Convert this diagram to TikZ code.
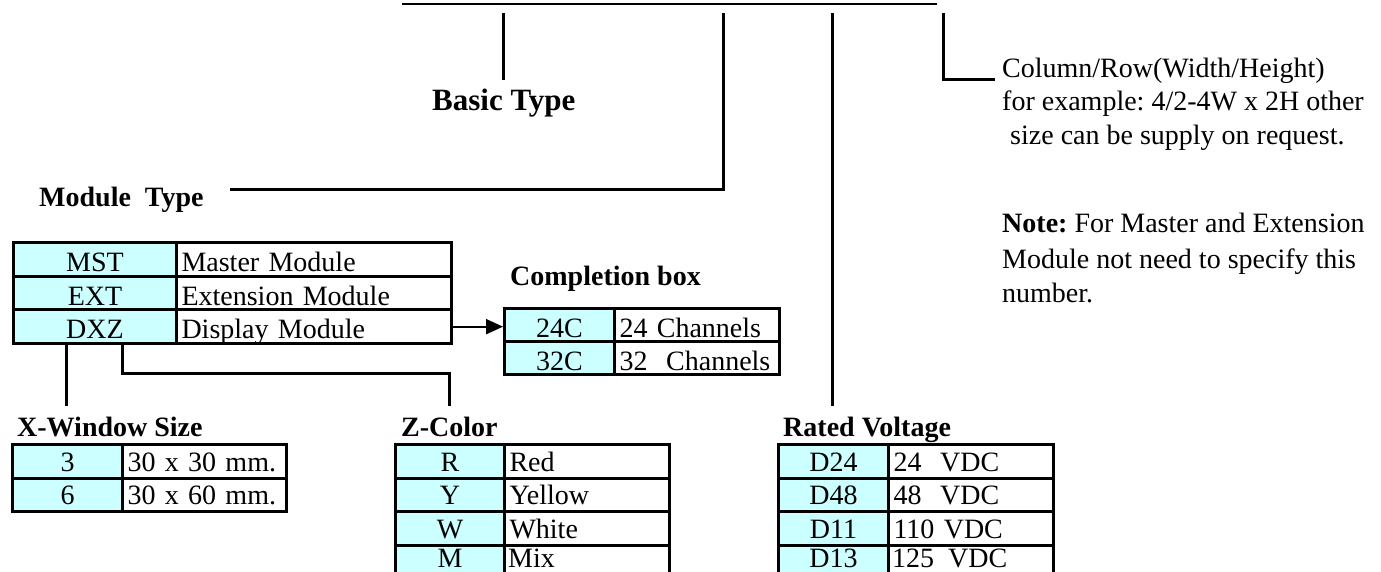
\documentclass[tikz,border=0pt]{standalone}
\usepackage{fontspec}
\setmainfont{Liberation Serif}
\usetikzlibrary{arrows.meta}
\definecolor{cyanbg}{HTML}{CCFFFF}
\frenchspacing
\newcommand{\regfont}{\fontsize{28}{34}\selectfont}
\newcommand{\bldfont}{\fontsize{28}{34}\selectfont\bfseries}
\newcommand{\bigbldfont}{\fontsize{31}{37}\selectfont\bfseries}
\tikzset{
  conn/.style={line width=3pt},
  cellbox/.style={draw, line width=3pt, inner sep=0pt, text height=25pt, text depth=1pt,
    anchor=north west, font=\regfont},
  codecell/.style={cellbox, fill=cyanbg, minimum width=#1},
  desccell/.style={cellbox, fill=white, inner xsep=5pt, text width=#1, align=left},
  rowa/.style={minimum height=33.67pt},
  rowb/.style={minimum height=33pt},
  rowc/.style={minimum height=33.5pt, text height=23pt, text depth=3pt},
  lbl/.style={inner sep=0pt, anchor=base west, font=\regfont},
  clbl/.style={inner sep=0pt, anchor=base, font=\regfont},
  blbl/.style={inner sep=0pt, anchor=base west, font=\bldfont},
  arrowln/.style={line width=2pt, -{Triangle[length=17pt,width=15pt]}}
}
\begin{document}
\begin{tikzpicture}[x=1pt,y=1pt]
\useasboundingbox (0,0) rectangle (1381,-571);
\clip (0,0) rectangle (1381,-571);

% top bar and its branches
\coordinate (barL) at (402,-4);
\coordinate (barR) at (937,-4);
\draw[line width=2.8pt] (barL) -- (barR);

\coordinate (b1) at (503,-13);  \coordinate (b2) at (503,-80);
\coordinate (m1) at (723,-13);  \coordinate (m2) at (723,-189); \coordinate (m3) at (230,-189);
\coordinate (v1) at (832,-13);  \coordinate (v2) at (832,-406);
\coordinate (k1) at (943,-13);  \coordinate (k2) at (943,-79);  \coordinate (k3) at (995,-79);
\draw[conn] (b1) -- (b2);
\draw[conn] (m1) -- (m2) -- (m3);
\draw[conn] (v1) -- (v2);
\draw[conn] (k1) -- (k2) -- (k3);

% labels
\node[inner sep=0pt, anchor=base west, font=\bigbldfont] (basic) at (432,-110) {Basic Type};
\node[blbl] (modtype) at (39,-206) {Module~~Type};
\node[blbl] (comptitle) at (510,-285) {Completion box};
\node[blbl] (xwtitle) at (17,-436) {X-Window Size};
\node[blbl] (ztitle) at (401,-436) {Z-Color};
\node[blbl] (rvtitle) at (783,-436) {Rated Voltage};

\node[lbl] (cr1) at (1002,-77) {Column/Row(Width/Height)};
\node[lbl] (cr2) at (1002,-110) {for example: 4/2-4W x 2H other};
\node[lbl] (cr3) at (1010,-144) {size can be supply on request.};
\node[lbl] (nt1) at (1002,-232) {\textbf{Note:} For Master and Extension};
\node[lbl] (nt2) at (1002,-268) {Module not need to specify this};
\node[lbl] (nt3) at (1002,-302) {number.};

% Module type table
\node[codecell=163pt, rowa] (mst) at (12,-241) {MST};
\node[desccell=265pt, rowa] (mstd) at (175,-241) {Master Module};
\node[codecell=163pt, rowa] (ext) at (12,-274.67) {EXT};
\node[desccell=265pt, rowa] (extd) at (175,-274.67) {Extension Module};
\node[codecell=163pt, rowa] (dxz) at (12,-308.33) {DXZ};
\node[desccell=265pt, rowa] (dispm) at (175,-308.33) {Display Module};

% Completion box table
\node[codecell=110pt, rowb] (c24) at (503,-307) {24C};
\node[desccell=155pt, rowb] (c24d) at (613,-307) {24 Channels};
\node[codecell=110pt, rowb] (c32) at (503,-340) {32C};
\node[desccell=155pt, rowb] (c32d) at (613,-340) {32~~Channels};

\draw[arrowln] (dispm.east) -- (dispm.east -| c24.west);

% connectors below module table
\coordinate (xwend) at (66,-406);
\coordinate (zbend) at (122,-373);
\coordinate (zend) at (449,-406);
\draw[conn] (dxz.south -| xwend) -- (xwend);
\draw[conn] (dxz.south -| zbend) -- (zbend) -| (zend);

% X-Window size table
\node[codecell=110pt, rowc] (xw3) at (11,-443) {3};
\node[desccell=154pt, rowc] (xw3d) at (121,-443) {30 x 30 mm.};
\node[codecell=110pt, rowc] (xw6) at (11,-476.5) {6};
\node[desccell=154pt, rowc] (xw6d) at (121,-476.5) {30 x 60 mm.};

% Z-Color table
\node[codecell=109pt, rowc] (zr) at (394,-443) {R};
\node[desccell=155pt, rowc] (zrd) at (503,-443) {Red};
\node[codecell=109pt, rowc] (zy) at (394,-476.5) {Y};
\node[desccell=155pt, rowc] (zyd) at (503,-476.5) {Yellow};
\node[codecell=109pt, rowc] (zw) at (394,-510) {W};
\node[desccell=155pt, rowc] (zwd) at (503,-510) {White};
\node[codecell=109pt, rowc] (zm) at (394,-543.5) {};
\node[desccell=155pt, rowc] (zmd) at (503,-543.5) {};
\node[clbl] (zmt) at ([yshift=-24pt]zm.north) {M};
\node[lbl] (zmdt) at ([xshift=5pt,yshift=-24pt]zmd.north west) {Mix};

% Rated voltage table
\node[codecell=110pt, rowc] (d24) at (777,-443) {D24};
\node[desccell=155pt, rowc] (d24d) at (887,-443) {24~~VDC};
\node[codecell=110pt, rowc] (d48) at (777,-476.5) {D48};
\node[desccell=155pt, rowc] (d48d) at (887,-476.5) {48~~VDC};
\node[codecell=110pt, rowc] (d11) at (777,-510) {D11};
\node[desccell=155pt, rowc] (d11d) at (887,-510) {110 VDC};
\node[codecell=110pt, rowc] (d13) at (777,-543.5) {};
\node[desccell=155pt, rowc] (d13d) at (887,-543.5) {};
\node[clbl] (d13t) at ([yshift=-24pt]d13.north) {D13};
\node[lbl] (d13dt) at ([xshift=5pt,yshift=-24pt]d13d.north west) {125~~VDC};
\end{tikzpicture}
\end{document}
